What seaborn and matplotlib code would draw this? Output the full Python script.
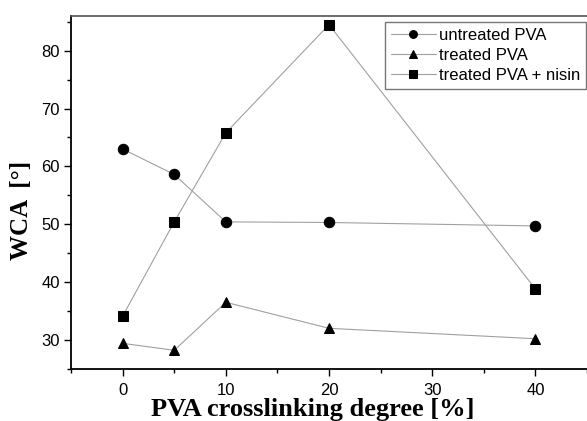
import seaborn as sns
import matplotlib.pyplot as plt
import pandas as pd

# Crosslinking degree [%]
degree = [0, 5, 10, 20, 40]

# Water contact angle [deg]
untreated = [63.0, 58.6, 50.4, 50.3, 49.7]
treated = [29.4, 28.2, 36.5, 32.0, 30.2]
treated_nisin = [34.1, 50.4, 65.8, 84.5, 38.8]

series = [
    ("untreated PVA", untreated, "o"),
    ("treated PVA", treated, "^"),
    ("treated PVA + nisin", treated_nisin, "s"),
]

sns.set_theme(style="ticks")
plt.rcParams["font.family"] = ["Liberation Sans", "DejaVu Sans"]
plt.rcParams["text.color"] = "black"
plt.rcParams["axes.labelcolor"] = "black"
plt.rcParams["xtick.labelcolor"] = "black"
plt.rcParams["ytick.labelcolor"] = "black"

fig = plt.figure(figsize=(5.87, 4.21), dpi=100)
ax = fig.add_axes([0.121, 0.124, 0.879, 0.838])

for name, values, marker in series:
    df = pd.DataFrame({"degree": degree, "wca": values})
    sns.lineplot(data=df, x="degree", y="wca", ax=ax, color="#a0a0a0",
                 linewidth=0.8, marker=marker, markersize=7.5,
                 markerfacecolor="black", markeredgecolor="black",
                 label=name)

ax.set_xlim(-5, 45)
ax.set_ylim(25, 86)
ax.set_xticks([0, 10, 20, 30, 40])
ax.set_xticks([-5, 5, 15, 25, 35, 45], minor=True)
ax.set_yticks([30, 40, 50, 60, 70, 80])
ax.set_yticks([25, 35, 45, 55, 65, 75, 85], minor=True)
ax.tick_params(which="major", direction="out", length=5, width=1,
               labelsize=12, color="black", pad=3)
ax.tick_params(axis="x", which="major", pad=5)
ax.tick_params(which="minor", direction="out", length=3, width=1,
               color="black")

for side in ["left", "bottom"]:
    ax.spines[side].set_color("black")
    ax.spines[side].set_linewidth(1.3)
ax.spines["top"].set_color("#555555")
ax.spines["top"].set_linewidth(1.2)
ax.spines["right"].set_visible(False)

ax.set_xlabel("PVA crosslinking degree [%]", family="Liberation Serif",
              fontweight="bold", fontsize=19)
ax.xaxis.set_label_coords(0.468, -0.083)
ax.set_ylabel("WCA  [°]", family="Liberation Serif",
              fontweight="bold", fontsize=18)
ax.yaxis.set_label_coords(-0.074, 0.45)

leg = ax.legend(loc="upper right", bbox_to_anchor=(0.998, 0.983),
                fontsize=12, frameon=True, fancybox=False,
                handlelength=2.7, handletextpad=0.2, borderpad=0.35,
                labelspacing=0.3, borderaxespad=0.0, markerscale=0.75)
leg.get_frame().set_edgecolor("#555555")
leg.get_frame().set_linewidth(1.0)

fig.savefig("out.png", dpi=100)
